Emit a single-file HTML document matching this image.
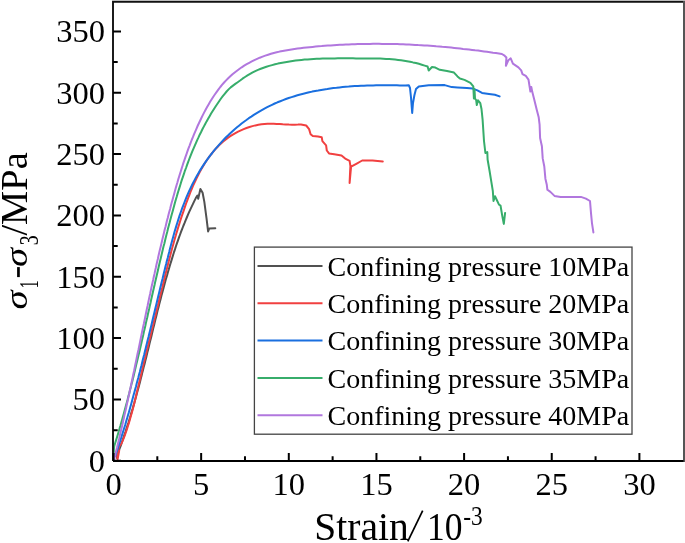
<!DOCTYPE html>
<html><head><meta charset="utf-8"><style>
html,body{margin:0;padding:0;background:#fff;overflow:hidden;}
svg{display:block;will-change:transform;}
text{font-family:"Liberation Serif",serif;fill:#000;}
</style></head><body>
<svg width="685" height="543" viewBox="0 0 685 543">
<rect width="685" height="543" fill="#fff"/>
<g fill="none" stroke-width="2" stroke-linejoin="round" stroke-linecap="round"><path d="M117.0 458.0 L117.0 458.0 L117.3 454.9 L118.4 452.0 L119.4 449.1 L120.5 446.3 L121.5 443.4 L122.5 440.5 L123.5 437.6 L124.5 434.7 L125.5 431.8 L126.4 428.9 L127.3 426.0 L128.3 423.1 L129.2 420.2 L130.1 417.3 L130.9 414.4 L131.8 411.4 L132.7 408.5 L133.5 405.6 L134.4 402.6 L135.2 399.7 L136.0 396.7 L136.8 393.8 L137.6 390.8 L138.4 387.9 L139.2 384.9 L140.0 382.0 L140.7 379.0 L141.5 376.0 L142.2 373.1 L143.0 370.1 L143.7 367.1 L144.5 364.2 L145.2 361.2 L146.0 358.2 L146.7 355.2 L147.4 352.3 L148.2 349.3 L148.9 346.3 L149.6 343.3 L150.3 340.4 L151.1 337.4 L151.8 334.4 L152.5 331.4 L153.2 328.5 L154.0 325.5 L154.7 322.5 L155.4 319.5 L156.2 316.6 L156.9 313.6 L157.6 310.6 L158.4 307.7 L159.1 304.7 L159.9 301.7 L160.7 298.8 L161.4 295.8 L162.2 292.9 L163.0 289.9 L163.8 287.0 L164.6 284.0 L165.4 281.1 L166.2 278.1 L167.1 275.2 L167.9 272.3 L168.8 269.3 L169.6 266.4 L170.5 263.5 L171.4 260.6 L172.3 257.6 L173.2 254.7 L174.1 251.8 L175.1 248.9 L176.0 246.0 L177.0 243.2 L178.0 240.3 L179.0 237.4 L180.1 234.5 L181.1 231.7 L182.2 228.8 L183.3 226.0 L184.5 223.2 L185.6 220.3 L186.8 217.5 L188.0 214.7 L189.2 211.9 L190.5 209.1 L191.8 206.4 L193.1 203.6 L194.4 200.9 L195.8 198.1 L197.4 195.5 L197.4 195.5 L198.2 198.8 L200.4 188.9 L202.6 192.7 L204.3 201.6 L206.5 218.1 L208.1 231.4 L209.2 228.6 L215.3 228.3" stroke="#515151"/><path d="M116.6 452.0 L116.6 452.0 L117.6 459.3 L119.2 450.5 L117.2 452.0 L119.5 446.0 L119.5 446.0 L121.4 443.6 L122.6 440.9 L123.7 438.1 L124.8 435.3 L125.8 432.4 L126.8 429.6 L127.7 426.8 L128.6 423.9 L129.5 421.0 L130.3 418.1 L131.1 415.3 L131.9 412.4 L132.7 409.4 L133.5 406.5 L134.2 403.6 L134.9 400.7 L135.6 397.7 L136.3 394.8 L137.0 391.8 L137.7 388.8 L138.4 385.9 L139.1 382.9 L139.8 379.9 L140.5 377.0 L141.2 374.0 L141.9 371.0 L142.6 368.0 L143.3 365.1 L144.0 362.1 L144.8 359.1 L145.5 356.1 L146.2 353.1 L146.9 350.1 L147.7 347.1 L148.4 344.2 L149.1 341.2 L149.9 338.2 L150.6 335.2 L151.3 332.2 L152.0 329.2 L152.8 326.3 L153.5 323.3 L154.2 320.3 L155.0 317.3 L155.7 314.4 L156.4 311.4 L157.1 308.4 L157.9 305.5 L158.6 302.5 L159.3 299.6 L160.0 296.6 L160.7 293.7 L161.4 290.7 L162.2 287.8 L162.9 284.9 L163.6 282.0 L164.3 279.0 L165.0 276.1 L165.7 273.2 L166.5 270.3 L167.2 267.4 L167.9 264.5 L168.7 261.6 L169.4 258.7 L170.2 255.8 L170.9 252.9 L171.7 250.0 L172.5 247.1 L173.3 244.2 L174.1 241.3 L174.9 238.4 L175.8 235.5 L176.6 232.6 L177.5 229.7 L178.4 226.8 L179.3 223.9 L180.2 221.0 L181.1 218.1 L182.1 215.2 L183.1 212.3 L184.1 209.4 L185.1 206.4 L186.1 203.5 L187.2 200.6 L188.3 197.7 L189.4 194.8 L190.5 191.9 L191.7 189.1 L192.9 186.2 L194.2 183.4 L195.5 180.6 L196.8 177.8 L198.2 175.0 L199.6 172.3 L201.1 169.6 L202.6 167.0 L204.1 164.4 L205.8 161.8 L207.5 159.3 L209.2 156.9 L211.0 154.5 L212.9 152.2 L214.8 149.9 L216.8 147.7 L218.8 145.6 L221.0 143.6 L223.2 141.6 L225.5 139.7 L227.8 137.9 L230.3 136.2 L232.8 134.6 L235.4 133.1 L238.1 131.6 L240.9 130.3 L243.7 129.1 L246.5 128.0 L249.5 127.0 L252.4 126.1 L255.4 125.4 L258.4 124.8 L261.5 124.3 L264.5 124.0 L267.6 123.8 L270.6 123.8 L273.7 123.8 L276.7 123.9 L279.8 124.1 L282.8 124.3 L285.8 124.4 L288.9 124.6 L291.9 124.7 L294.9 124.7 L298.0 124.6 L301.0 124.4 L301.0 124.4 L306.2 125.5 L309.1 129.1 L310.6 134.3 L312.8 136.1 L318.0 136.5 L321.7 137.2 L322.4 141.2 L326.1 145.3 L326.8 150.5 L329.0 153.4 L334.2 154.2 L341.5 155.4 L345.2 158.6 L349.6 160.8 L350.4 166.0 L350.1 171.9 L349.6 182.9 L350.6 172.0 L351.1 166.7 L356.3 163.8 L362.2 160.5 L372.5 160.5 L382.8 161.5" stroke="#F14040"/><path d="M115.4 456.0 L115.4 456.0 L116.2 453.2 L117.1 450.3 L118.1 447.4 L119.0 444.5 L120.0 441.6 L120.9 438.7 L121.8 435.8 L122.7 432.9 L123.6 430.0 L124.5 427.1 L125.4 424.2 L126.2 421.3 L127.1 418.4 L127.9 415.5 L128.8 412.6 L129.6 409.7 L130.4 406.8 L131.2 403.9 L132.0 400.9 L132.8 398.0 L133.6 395.1 L134.4 392.2 L135.2 389.3 L136.0 386.4 L136.7 383.5 L137.5 380.6 L138.3 377.7 L139.0 374.8 L139.8 371.9 L140.5 369.0 L141.3 366.1 L142.0 363.2 L142.7 360.3 L143.4 357.4 L144.2 354.5 L144.9 351.6 L145.6 348.7 L146.3 345.8 L147.0 342.9 L147.7 339.9 L148.5 337.0 L149.2 334.1 L149.9 331.2 L150.6 328.3 L151.3 325.4 L152.0 322.5 L152.7 319.5 L153.4 316.6 L154.1 313.7 L154.8 310.8 L155.5 307.8 L156.2 304.9 L156.9 302.0 L157.6 299.1 L158.3 296.1 L159.0 293.2 L159.7 290.3 L160.4 287.3 L161.1 284.4 L161.8 281.5 L162.6 278.5 L163.3 275.6 L164.0 272.6 L164.7 269.7 L165.4 266.7 L166.2 263.8 L166.9 260.8 L167.7 257.9 L168.4 254.9 L169.2 251.9 L169.9 249.0 L170.7 246.0 L171.5 243.1 L172.3 240.1 L173.1 237.2 L173.9 234.2 L174.7 231.3 L175.6 228.4 L176.5 225.4 L177.4 222.5 L178.3 219.6 L179.2 216.7 L180.2 213.9 L181.2 211.0 L182.2 208.1 L183.3 205.3 L184.4 202.5 L185.5 199.7 L186.6 196.9 L187.8 194.1 L189.0 191.4 L190.3 188.6 L191.6 185.9 L192.9 183.2 L194.3 180.6 L195.7 177.9 L197.2 175.3 L198.7 172.7 L200.2 170.1 L201.8 167.6 L203.4 165.1 L205.1 162.6 L206.8 160.1 L208.6 157.7 L210.3 155.3 L212.2 153.0 L214.0 150.6 L215.9 148.3 L217.9 146.1 L219.9 143.8 L221.9 141.6 L223.9 139.5 L226.0 137.3 L228.2 135.3 L230.3 133.2 L232.5 131.2 L234.7 129.2 L237.0 127.3 L239.3 125.4 L241.6 123.5 L244.0 121.7 L246.4 120.0 L248.8 118.2 L251.3 116.6 L253.8 114.9 L256.3 113.3 L258.8 111.8 L261.4 110.3 L264.0 108.8 L266.7 107.4 L269.3 106.1 L272.0 104.8 L274.7 103.5 L277.5 102.3 L280.3 101.2 L283.1 100.1 L285.9 99.0 L288.7 98.0 L291.6 97.1 L294.5 96.2 L297.4 95.3 L300.3 94.5 L303.3 93.7 L306.2 93.0 L309.2 92.3 L312.2 91.6 L315.2 91.0 L318.2 90.5 L321.2 89.9 L324.2 89.4 L327.3 89.0 L330.3 88.5 L333.4 88.1 L336.5 87.8 L339.5 87.4 L342.6 87.1 L345.6 86.8 L348.7 86.6 L351.8 86.3 L354.8 86.1 L357.9 86.0 L361.0 85.8 L364.0 85.7 L367.1 85.6 L370.1 85.5 L373.1 85.4 L376.1 85.3 L379.2 85.3 L382.1 85.3 L385.1 85.2 L388.1 85.2 L391.1 85.3 L394.0 85.3 L396.9 85.3 L399.8 85.4 L402.7 85.4 L405.5 85.5 L408.8 85.2 L408.8 85.2 L410.0 88.0 L411.0 97.5 L412.2 112.9 L413.0 103.0 L414.4 95.2 L416.0 89.0 L418.8 86.4 L428.7 85.3 L444.7 85.1 L451.7 87.1 L457.5 87.4 L466.9 88.0 L472.7 88.6 L477.4 90.4 L482.0 92.9 L489.0 93.9 L494.9 94.8 L499.6 96.4" stroke="#1A6FDF"/><path d="M113.6 459.0 L113.6 459.0 L113.9 448.8 L113.9 448.8 L114.3 445.9 L115.2 443.0 L116.1 440.1 L117.0 437.2 L117.9 434.2 L118.8 431.3 L119.6 428.4 L120.5 425.5 L121.3 422.6 L122.1 419.7 L122.9 416.8 L123.7 413.9 L124.5 410.9 L125.3 408.0 L126.1 405.1 L126.9 402.2 L127.7 399.3 L128.4 396.3 L129.2 393.4 L129.9 390.5 L130.7 387.6 L131.4 384.6 L132.2 381.7 L132.9 378.8 L133.6 375.9 L134.3 372.9 L135.0 370.0 L135.7 367.1 L136.4 364.1 L137.1 361.2 L137.8 358.3 L138.5 355.3 L139.2 352.4 L139.9 349.5 L140.6 346.5 L141.3 343.6 L141.9 340.7 L142.6 337.7 L143.3 334.8 L143.9 331.8 L144.6 328.9 L145.3 326.0 L145.9 323.0 L146.6 320.1 L147.3 317.2 L147.9 314.2 L148.6 311.3 L149.3 308.3 L149.9 305.4 L150.6 302.5 L151.2 299.5 L151.9 296.6 L152.6 293.6 L153.2 290.7 L153.9 287.8 L154.6 284.8 L155.2 281.9 L155.9 278.9 L156.6 276.0 L157.3 273.1 L158.0 270.1 L158.6 267.2 L159.3 264.2 L160.0 261.3 L160.7 258.4 L161.4 255.4 L162.1 252.5 L162.8 249.5 L163.5 246.6 L164.3 243.7 L165.0 240.7 L165.7 237.8 L166.4 234.9 L167.2 231.9 L167.9 229.0 L168.7 226.1 L169.5 223.1 L170.2 220.2 L171.0 217.3 L171.8 214.3 L172.6 211.4 L173.4 208.5 L174.2 205.5 L175.0 202.6 L175.8 199.7 L176.7 196.8 L177.5 193.9 L178.4 191.0 L179.3 188.1 L180.2 185.2 L181.1 182.3 L182.0 179.4 L183.0 176.6 L184.0 173.7 L184.9 170.8 L186.0 168.0 L187.0 165.2 L188.0 162.3 L189.1 159.5 L190.2 156.7 L191.3 153.9 L192.4 151.1 L193.6 148.3 L194.8 145.6 L196.0 142.8 L197.2 140.1 L198.5 137.4 L199.7 134.7 L201.1 132.0 L202.4 129.3 L203.8 126.6 L205.2 124.0 L206.6 121.4 L208.1 118.8 L209.6 116.2 L211.1 113.6 L212.7 111.0 L214.3 108.5 L215.9 106.0 L217.6 103.5 L219.3 101.0 L221.0 98.5 L222.8 96.1 L224.7 93.8 L226.6 91.5 L228.6 89.4 L230.7 87.4 L233.0 85.6 L235.3 83.9 L237.7 82.2 L240.1 80.5 L242.5 78.7 L245.0 77.0 L247.5 75.4 L250.1 73.9 L252.7 72.4 L255.3 71.1 L258.0 69.9 L260.8 68.8 L263.6 67.7 L266.4 66.8 L269.2 65.9 L272.1 65.1 L275.0 64.3 L277.9 63.6 L280.8 63.0 L283.7 62.4 L286.7 61.9 L289.6 61.4 L292.6 61.0 L295.6 60.6 L298.5 60.2 L301.5 59.9 L304.5 59.6 L307.5 59.4 L310.5 59.2 L313.6 59.0 L316.6 58.8 L319.6 58.7 L322.6 58.6 L325.6 58.5 L328.7 58.4 L331.7 58.4 L334.8 58.4 L337.8 58.3 L340.8 58.3 L343.9 58.3 L346.9 58.3 L349.9 58.3 L353.0 58.3 L356.0 58.4 L359.0 58.4 L362.1 58.4 L365.1 58.4 L368.1 58.4 L371.1 58.4 L374.1 58.5 L377.2 58.5 L380.2 58.6 L383.2 58.7 L386.2 58.9 L389.2 59.1 L392.1 59.3 L395.1 59.6 L398.1 59.9 L401.1 60.3 L404.1 60.7 L407.0 61.2 L410.0 61.7 L413.0 62.4 L415.9 63.0 L418.9 63.8 L421.8 64.7 L424.7 65.6 L427.6 66.5 L427.6 66.5 L428.7 70.5 L432.0 67.0 L435.4 67.6 L439.8 69.8 L447.0 71.1 L454.0 72.6 L457.5 76.4 L459.9 78.5 L464.5 79.9 L470.4 82.8 L473.3 86.3 L473.9 98.5 L474.5 89.2 L475.0 98.5 L476.2 100.3 L476.8 105.0 L478.0 100.3 L480.3 103.2 L481.5 109.0 L482.6 119.6 L484.0 141.0 L485.4 153.0 L487.3 152.1 L487.6 159.5 L489.5 170.5 L491.3 181.6 L492.8 190.8 L493.5 200.9 L495.0 196.3 L496.8 200.0 L499.0 204.6 L500.5 205.5 L502.4 216.6 L503.8 223.9 L505.1 212.9" stroke="#37AD6B"/><path d="M114.4 459.0 L114.4 459.0 L114.9 456.0 L115.6 453.1 L116.3 450.2 L117.1 447.2 L117.8 444.3 L118.5 441.4 L119.2 438.4 L119.8 435.5 L120.5 432.6 L121.2 429.6 L121.9 426.7 L122.6 423.8 L123.2 420.8 L123.9 417.9 L124.5 414.9 L125.2 412.0 L125.9 409.0 L126.5 406.1 L127.1 403.2 L127.8 400.2 L128.4 397.3 L129.1 394.3 L129.7 391.4 L130.3 388.4 L131.0 385.5 L131.6 382.5 L132.2 379.6 L132.8 376.6 L133.4 373.7 L134.1 370.7 L134.7 367.8 L135.3 364.8 L135.9 361.9 L136.5 358.9 L137.1 355.9 L137.7 353.0 L138.4 350.0 L139.0 347.1 L139.6 344.1 L140.2 341.2 L140.8 338.2 L141.4 335.3 L142.0 332.3 L142.6 329.4 L143.2 326.4 L143.9 323.5 L144.5 320.5 L145.1 317.6 L145.7 314.6 L146.3 311.7 L146.9 308.7 L147.6 305.8 L148.2 302.8 L148.8 299.9 L149.4 296.9 L150.1 294.0 L150.7 291.0 L151.3 288.1 L152.0 285.1 L152.6 282.2 L153.3 279.2 L153.9 276.3 L154.6 273.4 L155.2 270.4 L155.9 267.5 L156.5 264.5 L157.2 261.6 L157.9 258.7 L158.5 255.7 L159.2 252.8 L159.9 249.8 L160.6 246.9 L161.3 244.0 L162.0 241.1 L162.7 238.1 L163.4 235.2 L164.1 232.3 L164.8 229.3 L165.6 226.4 L166.3 223.5 L167.0 220.6 L167.8 217.7 L168.5 214.7 L169.3 211.8 L170.1 208.9 L170.8 206.0 L171.6 203.1 L172.4 200.2 L173.2 197.3 L174.0 194.4 L174.8 191.5 L175.6 188.6 L176.4 185.7 L177.3 182.8 L178.1 179.9 L179.0 177.0 L179.9 174.1 L180.8 171.2 L181.7 168.4 L182.6 165.5 L183.5 162.6 L184.5 159.8 L185.5 156.9 L186.5 154.1 L187.5 151.2 L188.5 148.4 L189.6 145.6 L190.6 142.8 L191.7 140.0 L192.9 137.2 L194.0 134.4 L195.2 131.6 L196.4 128.8 L197.6 126.0 L198.9 123.3 L200.2 120.5 L201.5 117.8 L202.8 115.1 L204.2 112.4 L205.6 109.7 L207.1 107.0 L208.6 104.4 L210.1 101.8 L211.7 99.2 L213.3 96.7 L215.0 94.2 L216.7 91.8 L218.5 89.4 L220.3 87.0 L222.2 84.7 L224.1 82.5 L226.1 80.4 L228.2 78.3 L230.3 76.3 L232.5 74.3 L234.7 72.5 L237.0 70.7 L239.3 69.0 L241.7 67.3 L244.2 65.7 L246.7 64.2 L249.2 62.8 L251.8 61.4 L254.4 60.1 L257.1 58.9 L259.8 57.7 L262.6 56.6 L265.3 55.6 L268.1 54.7 L271.0 53.8 L273.8 53.0 L276.7 52.3 L279.6 51.6 L282.6 51.0 L285.5 50.4 L288.5 49.9 L291.5 49.4 L294.5 49.0 L297.5 48.6 L300.5 48.2 L303.5 47.8 L306.5 47.5 L309.6 47.2 L312.6 46.9 L315.6 46.6 L318.6 46.3 L321.7 46.1 L324.7 45.8 L327.7 45.6 L330.7 45.4 L333.7 45.2 L336.8 45.0 L339.8 44.8 L342.8 44.7 L345.8 44.5 L348.8 44.4 L351.9 44.3 L354.9 44.2 L357.9 44.1 L360.9 44.0 L363.9 43.9 L366.9 43.9 L370.0 43.9 L373.0 43.8 L376.0 43.8 L379.0 43.8 L382.0 43.9 L385.0 43.9 L388.1 43.9 L391.1 44.0 L394.1 44.1 L397.1 44.1 L400.1 44.2 L403.1 44.3 L406.1 44.5 L409.1 44.6 L412.2 44.7 L415.2 44.9 L418.2 45.1 L421.2 45.2 L424.2 45.4 L427.2 45.6 L430.2 45.8 L433.2 46.0 L436.2 46.3 L439.2 46.5 L442.2 46.8 L445.2 47.0 L448.2 47.3 L451.2 47.6 L454.2 47.9 L457.2 48.2 L460.2 48.5 L463.1 48.9 L466.1 49.2 L469.1 49.5 L472.1 49.9 L475.1 50.3 L478.1 50.6 L481.0 51.0 L484.0 51.4 L487.0 51.8 L490.0 52.2 L493.0 52.7 L495.9 53.1 L498.9 53.5 L501.9 54.0 L504.6 55.7 L504.6 55.7 L506.4 57.5 L505.9 65.8 L508.3 60.3 L510.7 58.4 L512.9 63.6 L518.4 67.3 L521.2 70.4 L522.5 74.1 L525.8 75.9 L528.5 79.6 L529.5 86.0 L530.4 91.6 L531.3 87.0 L532.2 91.6 L534.1 98.9 L536.8 110.0 L538.7 117.3 L539.6 124.7 L540.1 138.0 L541.9 146.2 L542.7 158.4 L544.3 166.5 L545.4 178.7 L546.8 184.8 L547.4 189.8 L550.4 191.9 L554.5 195.9 L560.6 196.9 L580.9 196.9 L585.9 198.6 L590.0 201.0 L591.0 213.2 L592.0 223.3 L593.4 232.4" stroke="#B177DE"/></g>
<rect x="254.4" y="247.1" width="377.6" height="187.1" fill="#fff" stroke="#444" stroke-width="1.3"/>
<g fill="none" stroke-width="2"><path d="M257.5 266.0H322.5" stroke="#515151"/><path d="M257.5 303.3H322.5" stroke="#F14040"/><path d="M257.5 340.6H322.5" stroke="#1A6FDF"/><path d="M257.5 377.9H322.5" stroke="#37AD6B"/><path d="M257.5 415.2H322.5" stroke="#B177DE"/></g>
<g font-size="28"><text x="327.5" y="275.8">Confining pressure 10MPa</text><text x="327.5" y="313.1">Confining pressure 20MPa</text><text x="327.5" y="350.4">Confining pressure 30MPa</text><text x="327.5" y="387.7">Confining pressure 35MPa</text><text x="327.5" y="425.0">Confining pressure 40MPa</text></g>
<path d="M113 461V1.9H683.5" fill="none" stroke="#111" stroke-width="1.9"/><path d="M684 1V462" fill="none" stroke="#555" stroke-width="2"/><path d="M113 461H683.5" fill="none" stroke="#000" stroke-width="2"/><path d="M112 0.5H685" stroke="#bbb" stroke-width="1"/>
<path d="M113.50 461V453M201.15 461V453M288.80 461V453M376.45 461V453M464.10 461V453M551.75 461V453M639.40 461V453M157.32 461V456.3M244.98 461V456.3M332.62 461V456.3M420.28 461V456.3M507.93 461V456.3M595.58 461V456.3M113 460.80H121M113 399.46H121M113 338.12H121M113 276.78H121M113 215.44H121M113 154.10H121M113 92.76H121M113 31.42H121M113 430.13H117.7M113 368.79H117.7M113 307.45H117.7M113 246.11H117.7M113 184.77H117.7M113 123.43H117.7M113 62.09H117.7" stroke="#000" stroke-width="2" fill="none"/>
<g font-size="32.5" text-anchor="middle"><text x="113.50" y="494.5">0</text><text x="201.15" y="494.5">5</text><text x="288.80" y="494.5">10</text><text x="376.45" y="494.5">15</text><text x="464.10" y="494.5">20</text><text x="551.75" y="494.5">25</text><text x="639.40" y="494.5">30</text></g>
<g font-size="32.5" text-anchor="end"><text x="105" y="471.80">0</text><text x="105" y="410.46">50</text><text x="105" y="349.12">100</text><text x="105" y="287.78">150</text><text x="105" y="226.44">200</text><text x="105" y="165.10">250</text><text x="105" y="103.76">300</text><text x="105" y="42.42">350</text></g>
<text x="314.3" y="539.6" font-size="39.5">Strain</text><path d="M407.8 541.3L422.7 510.6" stroke="#000" stroke-width="1.7"/><text x="427" y="539.6" font-size="39.5" textLength="35.5" lengthAdjust="spacingAndGlyphs">10</text><text x="463.3" y="524.5" font-size="27.5" textLength="19.5" lengthAdjust="spacingAndGlyphs">-3</text>
<g transform="translate(26.7 309.6) rotate(-90)">
<text x="0" y="0" font-size="38.5" font-style="italic" transform="scale(1 0.8)">σ</text>
<text transform="translate(21.2 11) scale(0.62 1)" font-size="26.5">1</text>
<rect x="32.5" y="-9.6" width="10" height="2.7" fill="#000"/>
<text x="42.5" y="0" font-size="38.5" font-style="italic" transform="scale(1 0.8)">σ</text>
<text transform="translate(64.4 11) scale(0.75 1)" font-size="26.5">3</text>
<text x="74" y="0" font-size="38.5">/MPa</text>
</g>
</svg>
</body></html>
